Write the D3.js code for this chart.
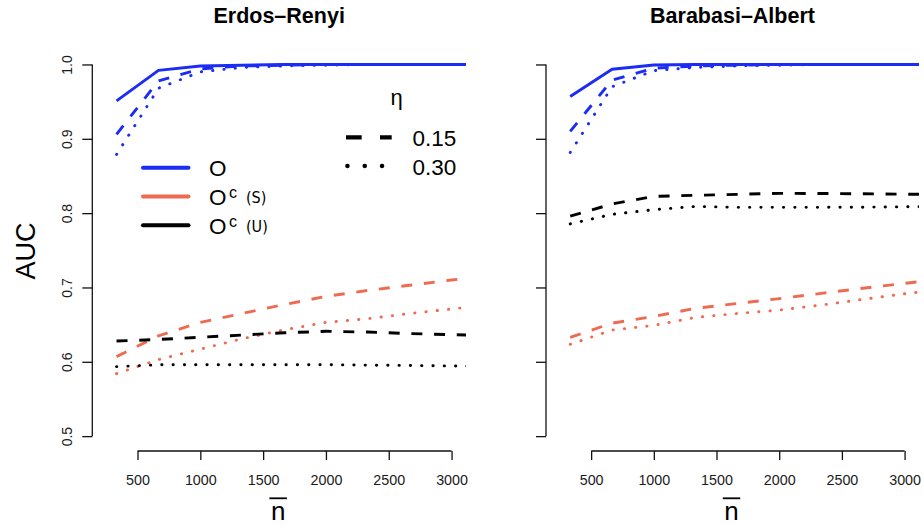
<!DOCTYPE html>
<html>
<head>
<meta charset="utf-8">
<script src="https://cdn.jsdelivr.net/npm/d3@7"></script>
<style>
  html, body { margin: 0; padding: 0; background: #fff; overflow: hidden; }
  svg { display: block; }
  text { font-family: "Liberation Sans", Arial, Helvetica, sans-serif; fill: #000; }
</style>
</head>
<body>
<svg id="chart" width="924" height="525"></svg>
<script>
// Average network size on the x axis
const nValues = [333, 667, 1000, 1333, 1667, 2000, 2333, 2667, 3000, 3333];
const xTicks = [500, 1000, 1500, 2000, 2500, 3000];
const yTicks = [0.5, 0.6, 0.7, 0.8, 0.9, 1.0];
const etaLabels = ["0.15", "0.30"];
const panelTitles = ["Erdos\u2013Renyi", "Barabasi\u2013Albert"];

// Erdos-Renyi AUC
const erO_00 = [0.951, 0.992, 0.998, 0.999, 1.000, 1.000, 1.000, 1.000, 1.000, 1.000];
const erO_15 = [0.906, 0.978, 0.994, 0.998, 0.999, 1.000, 1.000, 1.000, 1.000, 1.000];
const erO_30 = [0.879, 0.968, 0.990, 0.996, 0.998, 0.999, 1.000, 1.000, 1.000, 1.000];
const erS_15 = [0.607, 0.635, 0.653, 0.665, 0.677, 0.688, 0.696, 0.703, 0.710, 0.716];
const erS_30 = [0.584, 0.603, 0.617, 0.631, 0.643, 0.653, 0.658, 0.665, 0.671, 0.677];
const erU_15 = [0.628, 0.630, 0.633, 0.636, 0.639, 0.641, 0.640, 0.638, 0.6365, 0.635];
const erU_30 = [0.5935, 0.596, 0.596, 0.596, 0.596, 0.596, 0.5955, 0.595, 0.5944, 0.594];

// Barabasi-Albert AUC
const baO_00 = [0.957, 0.9936, 0.9993, 1.000, 1.000, 1.000, 1.000, 1.000, 1.000, 1.000];
const baO_15 = [0.910, 0.979, 0.995, 0.998, 0.999, 1.000, 1.000, 1.000, 1.000, 1.000];
const baO_30 = [0.8816, 0.970, 0.9917, 0.996, 0.998, 0.999, 1.000, 1.000, 1.000, 1.000];
const baS_15 = [0.633, 0.652, 0.661, 0.672, 0.6785, 0.685, 0.692, 0.699, 0.7055, 0.712];
const baS_30 = [0.6235, 0.6427, 0.649, 0.6597, 0.665, 0.6696, 0.6763, 0.684, 0.6915, 0.698];
const baU_15 = [0.796, 0.8123, 0.8226, 0.824, 0.8253, 0.8266, 0.8264, 0.826, 0.8255, 0.825];
const baU_30 = [0.7855, 0.7984, 0.8047, 0.809, 0.8078, 0.8078, 0.8078, 0.808, 0.8085, 0.8088];

const BLUE = "#1a2cf5", CORAL = "#ee6a50", BLACK = "#000";
const DASHED = "11,11.7", DOTTED = "0.3,11";

const panels = [
  { left: 92.3, right: 466, title: panelTitles[0], yLabels: true,
    series: [
      { v: erS_15, c: CORAL, d: DASHED }, { v: erS_30, c: CORAL, d: DOTTED },
      { v: erU_15, c: BLACK, d: DASHED }, { v: erU_30, c: BLACK, d: DOTTED },
      { v: erO_30, c: BLUE, d: DOTTED }, { v: erO_15, c: BLUE, d: DASHED },
      { v: erO_00, c: BLUE, d: null } ] },
  { left: 546, right: 919, title: panelTitles[1], yLabels: false,
    series: [
      { v: baS_15, c: CORAL, d: DASHED }, { v: baS_30, c: CORAL, d: DOTTED },
      { v: baU_15, c: BLACK, d: DASHED }, { v: baU_30, c: BLACK, d: DOTTED },
      { v: baO_30, c: BLUE, d: DOTTED }, { v: baO_15, c: BLUE, d: DASHED },
      { v: baO_00, c: BLUE, d: null } ] }
];

const plotTop = 49.6, plotBottom = 451;
const xlim = [140, 3115], ylim = [0.48, 1.02];
const svg = d3.select("#chart");
const defs = svg.append("defs");
const tickFont = "'Liberation Sans', Arial, sans-serif";

panels.forEach((p, i) => {
  const x = d3.scaleLinear().domain(xlim).range([p.left, p.right]);
  const y = d3.scaleLinear().domain(ylim).range([plotBottom, plotTop]);
  const g = svg.append("g");

  // title
  g.append("text")
    .attr("x", (p.left + p.right) / 2).attr("y", 22.7)
    .attr("text-anchor", "middle")
    .style("font-weight", "bold").style("font-size", "21.5px")
    .text(p.title);

  // x axis
  const xa = g.append("g").attr("transform", `translate(0,${plotBottom})`)
    .call(d3.axisBottom(x).tickValues(xTicks).tickSize(9).tickSizeOuter(0).tickFormat(d3.format("d")));
  xa.attr("font-family", null).attr("font-size", null);
  xa.select(".domain").remove();
  xa.append("line").attr("x1", x(xTicks[0])).attr("x2", x(xTicks[xTicks.length - 1]))
    .attr("stroke", "#111").attr("stroke-width", 1.3);
  xa.selectAll(".tick line").attr("stroke", "#111").attr("stroke-width", 1.3);
  xa.selectAll(".tick text").attr("y", 34).attr("dy", null)
    .style("font-size", "14.3px").style("fill", "#1a1a1a")
    .style("font-family", tickFont);

  // y axis
  const ya = g.append("g").attr("transform", `translate(${p.left},0)`)
    .call(d3.axisLeft(y).tickValues(yTicks).tickSize(10).tickSizeOuter(0).tickFormat(d3.format(".1f")));
  ya.attr("font-family", null).attr("font-size", null);
  ya.select(".domain").remove();
  ya.append("line").attr("y1", y(yTicks[0])).attr("y2", y(yTicks[yTicks.length - 1]))
    .attr("stroke", "#111").attr("stroke-width", 1.3);
  ya.selectAll(".tick line").attr("stroke", "#111").attr("stroke-width", 1.3);
  if (p.yLabels) {
    ya.selectAll(".tick text").attr("x", null).attr("dy", null)
      .attr("transform", "translate(-20.6,0) rotate(-90)")
      .attr("text-anchor", "middle")
      .style("font-size", "14px").style("fill", "#1a1a1a")
      .style("font-family", tickFont);
  } else {
    ya.selectAll(".tick text").remove();
  }

  // x label: n with a bar over it
  const cx = (p.left + p.right) / 2 - 1;
  const nl = g.append("text").attr("x", cx).attr("y", 520)
    .attr("text-anchor", "middle").style("font-size", "26px").text("n");
  const bw = nl.node().getComputedTextLength();
  g.append("line").attr("x1", cx - bw / 2 - 1.5).attr("x2", cx + bw / 2 + 1.5)
    .attr("y1", 498.3).attr("y2", 498.3).attr("stroke", "#000").attr("stroke-width", 1.8);

  // series
  const clipId = "clip" + i;
  defs.append("clipPath").attr("id", clipId).append("rect")
    .attr("x", p.left).attr("y", plotTop)
    .attr("width", p.right - p.left).attr("height", plotBottom - plotTop);
  const line = d3.line().x(d => x(d[0])).y(d => y(d[1]));
  const lg = g.append("g").attr("clip-path", `url(#${clipId})`);
  p.series.forEach(s => {
    lg.append("path")
      .datum(nValues.map((n, k) => [n, s.v[k]]))
      .attr("d", line)
      .attr("fill", "none")
      .attr("stroke", s.c)
      .attr("stroke-width", 2.9)
      .attr("stroke-linejoin", "round")
      .attr("stroke-linecap", s.d === DOTTED ? "round" : "butt")
      .attr("stroke-dasharray", s.d);
  });
});

// method legend (colours)
const methodLegend = svg.append("g");
const methods = [
  { c: BLUE, sup: null, tag: null },
  { c: CORAL, sup: "c", tag: "(S)" },
  { c: BLACK, sup: "c", tag: "(U)" }
];
const rowY = [167.7, 196.5, 225.3];
methods.forEach((m, k) => {
  const yy = rowY[k];
  methodLegend.append("line").attr("x1", 143).attr("x2", 188.5).attr("y1", yy).attr("y2", yy)
    .attr("stroke", m.c).attr("stroke-width", 4).attr("stroke-linecap", "round");
  methodLegend.append("text").attr("x", 209).attr("y", yy + 8.2)
    .style("font-size", "22.5px").text("O");
  if (m.sup) {
    methodLegend.append("text").attr("x", 229).attr("y", yy + 1.5)
      .style("font-size", "16px").text(m.sup);
    methodLegend.append("text").attr("x", 246).attr("y", yy + 6.5)
      .style("font-family", "'Liberation Sans Narrow', 'DejaVu Sans Condensed', sans-serif")
      .style("font-size", "16px").text(m.tag);
  }
});

// noise level legend (line types)
const etaLegend = svg.append("g");
etaLegend.append("text").attr("x", 396.7).attr("y", 104.5)
  .attr("text-anchor", "middle").style("font-size", "22px").text("\u03b7");
const etaRows = [{ y: 137.3, d: "15.7,18.3", cap: "butt" }, { y: 166, d: "0.3,17", cap: "round" }];
etaRows.forEach((r, k) => {
  etaLegend.append("line")
    .attr("x1", r.cap === "round" ? 347.3 : 346).attr("x2", 391.7)
    .attr("y1", r.y).attr("y2", r.y)
    .attr("stroke", "#000").attr("stroke-width", 4.3)
    .attr("stroke-linecap", r.cap).attr("stroke-dasharray", r.d);
  etaLegend.append("text").attr("x", 412.5).attr("y", r.y + 8.8)
    .style("font-size", "22.5px").text(etaLabels[k]);
});

// y axis title
svg.append("text")
  .attr("transform", "translate(35,251) rotate(-90)")
  .attr("text-anchor", "middle")
  .style("font-size", "27px").text("AUC");
</script>
</body>
</html>
